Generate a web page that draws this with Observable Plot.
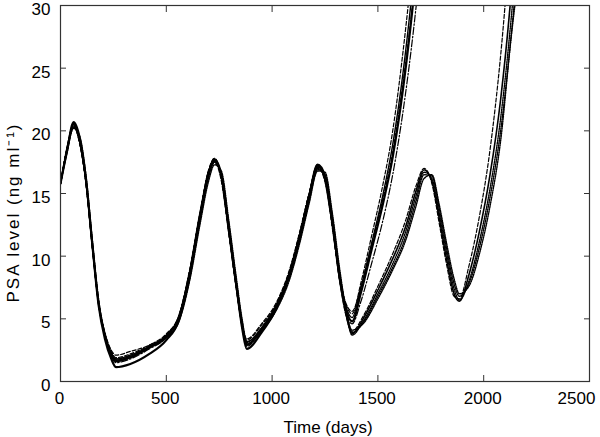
<!DOCTYPE html>
<html><head><meta charset="utf-8">
<script src="https://cdn.jsdelivr.net/npm/d3@7"></script>
<script src="https://cdn.jsdelivr.net/npm/@observablehq/plot@0.6"></script>
<style>body{margin:0;background:#fff} #chart svg{display:block}</style>
</head><body><div id="chart"></div>
<script>
// Time grid (days) shared by all simulations up to the third trough
const daysCommon = [0, 30, 62, 90, 120, 150, 180, 210, 240, 262, 330, 420, 500, 560, 610, 660, 700, 728, 760, 795, 830, 860, 880, 950, 1020, 1080, 1130, 1175, 1215, 1250, 1285, 1320, 1350, 1378];
// Early-escape group continues after day 1378
const daysTailA = [1420, 1470, 1520, 1570, 1620, 1670, 1700];
// Late-escape group: one more cycle
const daysTailB = [1430, 1500, 1570, 1630, 1680, 1718, 1755, 1790, 1825, 1860, 1885, 1930, 1980, 2030, 2080, 2130, 2170];

// PSA level (ng/ml) of each simulation
const simA1 = [15.8, 18.6, 20.4, 19.0, 15.8, 10.8, 6.3, 3.9, 2.5, 2.1, 2.4, 2.9, 3.7, 5.3, 8.9, 13.6, 16.8, 17.5, 16.0, 11.8, 7.5, 4.4, 3.4, 4.6, 6.3, 8.8, 11.9, 15.0, 17.1, 15.9, 12.2, 8.0, 6.1, 5.4,
  7.9, 11.6, 15.4, 20.0, 26.5, 34.5, 40];
const simA2 = [15.8, 18.4, 20.5, 19.2, 16.0, 10.9, 6.2, 3.6, 2.1, 1.6, 1.9, 2.7, 3.6, 5.2, 8.7, 13.4, 16.7, 17.7, 16.4, 12.2, 7.8, 4.3, 3.1, 4.3, 6.1, 8.6, 11.7, 14.9, 17.3, 16.2, 12.5, 8.2, 5.9, 5.1,
  7.5, 11.0, 14.6, 18.9, 24.8, 32.5, 38];
const simA3 = [15.8, 18.3, 20.7, 19.5, 16.2, 11.0, 6.1, 3.4, 1.8, 1.15, 1.4, 2.2, 3.3, 4.9, 8.4, 13.2, 16.6, 17.7, 16.5, 12.3, 7.8, 4.1, 2.6, 3.9, 5.8, 8.4, 11.5, 14.8, 17.3, 16.4, 12.8, 8.3, 5.7, 4.8,
  7.1, 10.5, 13.9, 17.9, 23.5, 30.8, 36];
const simA4 = [15.8, 18.5, 20.3, 19.1, 15.9, 10.8, 6.2, 3.7, 2.3, 1.8, 2.1, 2.8, 3.7, 5.2, 8.7, 13.4, 16.8, 17.8, 16.3, 12.0, 7.6, 4.4, 3.3, 4.5, 6.2, 8.7, 11.8, 15.0, 17.2, 16.0, 12.4, 8.2, 6.2, 5.6,
  7.6, 10.9, 14.3, 18.3, 24.0, 31.0, 36];
const simA5 = [15.8, 18.4, 20.6, 19.4, 16.1, 10.9, 6.2, 3.6, 2.0, 1.5, 1.8, 2.6, 3.5, 5.0, 8.5, 13.2, 16.5, 17.5, 16.4, 12.3, 7.9, 4.4, 3.0, 4.1, 5.9, 8.3, 11.4, 14.6, 17.0, 16.3, 12.8, 8.3, 5.5, 4.6,
  6.4, 9.4, 12.6, 16.5, 21.7, 28.3, 33];
const simB1 = [15.8, 18.5, 20.4, 19.1, 15.9, 10.8, 6.3, 3.8, 2.4, 1.9, 2.2, 2.9, 3.8, 5.3, 8.8, 13.5, 16.9, 17.8, 16.2, 11.9, 7.5, 4.2, 2.8, 4.2, 6.1, 8.6, 11.8, 15.0, 17.3, 16.1, 12.4, 7.9, 5.2, 4.0,
  5.2, 7.6, 10.2, 12.8, 15.6, 17.0, 15.8, 12.6, 9.3, 6.8, 6.6, 9.2, 13.2, 18.5, 26.0, 36.0, 44];
const simB2 = [15.8, 18.4, 20.6, 19.3, 16.0, 10.9, 6.2, 3.6, 2.1, 1.6, 1.9, 2.7, 3.6, 5.1, 8.6, 13.3, 16.6, 17.6, 16.3, 12.1, 7.7, 4.3, 2.9, 4.2, 6.0, 8.5, 11.6, 14.8, 17.2, 16.2, 12.6, 8.1, 5.3, 3.8,
  5.0, 7.3, 9.8, 12.3, 15.2, 16.9, 16.0, 13.0, 9.7, 7.0, 6.4, 8.5, 12.0, 16.5, 22.5, 31.0, 40];
const simB3 = [15.8, 18.2, 20.3, 19.4, 16.3, 11.2, 6.4, 3.7, 2.2, 1.7, 2.0, 2.7, 3.5, 4.9, 8.2, 12.9, 16.3, 17.5, 16.6, 12.6, 8.1, 4.6, 3.0, 4.0, 5.8, 8.2, 11.2, 14.4, 16.9, 16.5, 13.1, 8.6, 5.5, 3.7,
  4.8, 7.0, 9.4, 11.9, 14.8, 16.7, 16.2, 13.4, 10.2, 7.4, 6.5, 8.0, 11.2, 15.4, 21.0, 29.0, 37];
const simB4 = [15.8, 18.3, 20.2, 19.6, 16.5, 11.4, 6.6, 3.8, 2.2, 1.8, 2.1, 2.8, 3.5, 4.8, 8.0, 12.6, 16.0, 17.3, 16.8, 12.9, 8.4, 4.8, 3.2, 4.1, 5.7, 8.0, 11.0, 14.2, 16.8, 16.7, 13.4, 8.9, 5.7, 3.9,
  4.7, 6.8, 9.1, 11.5, 14.4, 16.5, 16.4, 13.8, 10.6, 7.8, 6.8, 7.8, 10.7, 14.7, 20.0, 27.6, 35];
const simB5 = [15.8, 18.6, 20.5, 19.2, 16.1, 11.1, 6.4, 3.8, 2.3, 1.7, 2.0, 2.8, 3.7, 5.2, 8.7, 13.4, 16.7, 17.6, 16.5, 12.4, 8.0, 4.5, 2.9, 4.1, 5.9, 8.4, 11.5, 14.7, 17.1, 16.4, 12.9, 8.4, 5.6, 4.1,
  4.6, 6.6, 8.9, 11.2, 14.0, 16.2, 16.5, 14.1, 11.0, 8.2, 7.0, 7.6, 10.2, 14.0, 19.2, 27.5, 33];

const xTicks = [0, 500, 1000, 1500, 2000, 2500];
const yTicks = [0, 5, 10, 15, 20, 25, 30];
const xLabel = "Time (days)";
const yLabel = "PSA level (ng ml\u207B\u00B9)";

const daysA = daysCommon.concat(daysTailA);
const daysB = daysCommon.concat(daysTailB);

const series = [
  {values: simA1, days: daysA, dash: "4,2", width: 1.2},
  {values: simA2, days: daysA, dash: null, width: 1.4},
  {values: simA3, days: daysA, dash: null, width: 2.2},
  {values: simA4, days: daysA, dash: "4,2", width: 1.2},
  {values: simA5, days: daysA, dash: "7,2,1.5,2", width: 1.2},
  {values: simB1, days: daysB, dash: "4,2", width: 1.2},
  {values: simB2, days: daysB, dash: null, width: 1.6},
  {values: simB3, days: daysB, dash: "1.2,1.2", width: 1.4},
  {values: simB4, days: daysB, dash: "1.2,1.2", width: 1.4},
  {values: simB5, days: daysB, dash: "1.2,1.2", width: 1.4}
];

const lineMarks = series.map(s => Plot.line(
  s.days.map((d, i) => ({day: d, psa: s.values[i]})),
  {x: "day", y: "psa", stroke: "#000", strokeWidth: s.width, strokeDasharray: s.dash, curve: "monotone-x", clip: true}
));

const fmt = d => String(d);

const chart = Plot.plot({
  width: 600, height: 437,
  marginLeft: 60, marginRight: 11, marginTop: 5, marginBottom: 56,
  style: {fontFamily: "'Liberation Sans', Arial, sans-serif", fontSize: "17px", color: "#000", background: "#fff", overflow: "visible"},
  x: {domain: [0, 2500]},
  y: {domain: [0, 30]},
  marks: [
    ...lineMarks,
    Plot.frame({stroke: "#333", strokeWidth: 1.2}),
    Plot.axisX(xTicks.slice(0, -1), {anchor: "bottom", tickSize: 0, tickPadding: 10, dx: -1, label: null, fontSize: 17, tickFormat: fmt}),
    Plot.axisX(xTicks.slice(-1), {anchor: "bottom", tickSize: 0, tickPadding: 10, dx: -13, label: null, fontSize: 17, tickFormat: fmt}),
    Plot.axisY(yTicks, {anchor: "left", tickSize: 0, tickPadding: 10, dy: 4, label: null, fontSize: 17, tickFormat: fmt}),
    Plot.axisX(xTicks.slice(1, -1), {anchor: "bottom", tickSize: 6, dy: -6, fill: "none", label: null, stroke: "#333"}),
    Plot.axisX(xTicks.slice(1, -1), {anchor: "top", tickSize: 6, dy: 6, fill: "none", label: null, stroke: "#333"}),
    Plot.axisY(yTicks.slice(1, -1), {anchor: "left", tickSize: 6, dx: 6, fill: "none", label: null, stroke: "#333"}),
    Plot.axisY(yTicks.slice(1, -1), {anchor: "right", tickSize: 6, dx: -6, fill: "none", label: null, stroke: "#333"}),
    Plot.text([xLabel], {text: d => d, frameAnchor: "bottom", dy: 46, dx: 3, fontSize: 17, lineAnchor: "middle", textAnchor: "middle"}),
    Plot.text([yLabel], {text: d => d, frameAnchor: "left", rotate: -90, dx: -47, dy: 19, fontSize: 17, lineAnchor: "middle", textAnchor: "middle"})
  ]
});
d3.select(chart).selectAll("text").filter(function() { return this.textContent === yLabel; }).attr("letter-spacing", "2px");
document.getElementById("chart").appendChild(chart);
</script>
</body></html>
